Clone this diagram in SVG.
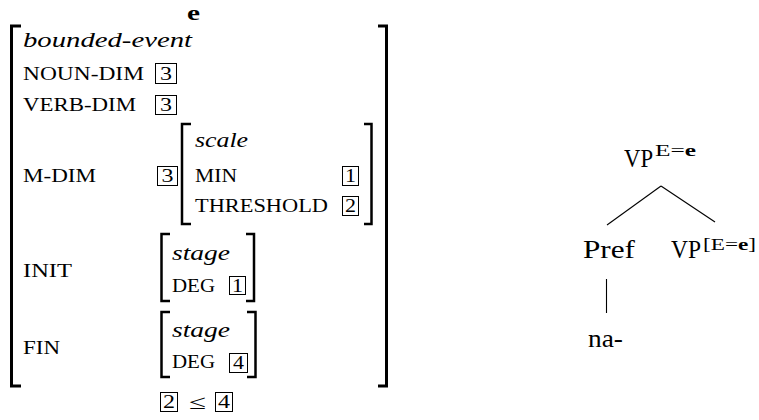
<svg xmlns="http://www.w3.org/2000/svg" width="759" height="420" viewBox="0 0 759 420">
<style>
text { font-family: "Liberation Serif", "Times New Roman", serif; fill: #000; }
.it { font-style: italic; font-size: 22px; }
.sc { font-size: 18.5px; }
.num { font-size: 19px; }
.tr { font-size: 26px; }
.sup { font-size: 17px; }
.b { font-weight: bold; }
.box { fill: none; stroke: #000; stroke-width: 1; }
.br { fill: none; stroke: #000; stroke-width: 3; stroke-linejoin: miter; }
.bri { fill: none; stroke: #000; stroke-width: 2.5; stroke-linejoin: miter; }
.edge { fill: none; stroke: #000; stroke-width: 1.1; }
</style>
<rect width="759" height="420" fill="#fff"/>
<g id="avm">
  <text class="b" x="187" y="20" font-size="22" textLength="13" lengthAdjust="spacingAndGlyphs">e</text>
  <path class="br" d="M21,26 H11.5 V386 H21"/>
  <path class="br" d="M378,26 H386.5 V386 H378"/>
  <text class="it" x="23" y="47" textLength="169" lengthAdjust="spacingAndGlyphs">bounded-event</text>
  <text class="sc" x="23" y="80" textLength="121" lengthAdjust="spacingAndGlyphs">NOUN-DIM</text>
  <rect class="box" x="155.5" y="63.5" width="21" height="20"/>
  <text class="num" x="160" y="80" textLength="12" lengthAdjust="spacingAndGlyphs">3</text>
  <text class="sc" x="23" y="111" textLength="113" lengthAdjust="spacingAndGlyphs">VERB-DIM</text>
  <rect class="box" x="155.5" y="95.5" width="21" height="19"/>
  <text class="num" x="160" y="111" textLength="12" lengthAdjust="spacingAndGlyphs">3</text>
  <text class="sc" x="23" y="182" textLength="73" lengthAdjust="spacingAndGlyphs">M-DIM</text>
  <rect class="box" x="157.5" y="166.5" width="20" height="19"/>
  <text class="num" x="161.5" y="182" textLength="12" lengthAdjust="spacingAndGlyphs">3</text>
  <g id="scale">
    <path class="bri" d="M191,124 H182 V224 H191"/>
    <path class="bri" d="M364,124 H371.5 V224 H364"/>
    <text class="it" x="195" y="147" textLength="53" lengthAdjust="spacingAndGlyphs">scale</text>
    <text class="sc" x="195" y="182" textLength="42" lengthAdjust="spacingAndGlyphs">MIN</text>
    <rect class="box" x="342.5" y="166.5" width="16" height="19"/>
    <text class="num" x="345" y="182" textLength="11" lengthAdjust="spacingAndGlyphs">1</text>
    <text class="sc" x="195" y="212" textLength="133" lengthAdjust="spacingAndGlyphs">THRESHOLD</text>
    <rect class="box" x="342.5" y="196.5" width="16" height="19"/>
    <text class="num" x="345" y="212" textLength="11" lengthAdjust="spacingAndGlyphs">2</text>
  </g>
  <text class="sc" x="23" y="277" textLength="49" lengthAdjust="spacingAndGlyphs">INIT</text>
  <g id="init-stage">
    <path class="bri" d="M170,234 H161.5 V301 H170"/>
    <path class="bri" d="M246,234 H254 V301 H246"/>
    <text class="it" x="172" y="260" textLength="58" lengthAdjust="spacingAndGlyphs">stage</text>
    <text class="sc" x="172" y="292" textLength="43" lengthAdjust="spacingAndGlyphs">DEG</text>
    <rect class="box" x="229.5" y="276.5" width="16" height="18"/>
    <text class="num" x="232" y="292" textLength="11" lengthAdjust="spacingAndGlyphs">1</text>
  </g>
  <text class="sc" x="23" y="354" textLength="37" lengthAdjust="spacingAndGlyphs">FIN</text>
  <g id="fin-stage">
    <path class="bri" d="M170,312 H161.5 V377 H170"/>
    <path class="bri" d="M247,312 H255.5 V377 H247"/>
    <text class="it" x="172" y="337" textLength="58" lengthAdjust="spacingAndGlyphs">stage</text>
    <text class="sc" x="172" y="368" textLength="43" lengthAdjust="spacingAndGlyphs">DEG</text>
    <rect class="box" x="229.5" y="353.5" width="18" height="19"/>
    <text class="num" x="233" y="369" textLength="11" lengthAdjust="spacingAndGlyphs">4</text>
  </g>
  <g id="constraint">
    <rect class="box" x="160.5" y="392.5" width="17" height="19"/>
    <text class="num" x="163" y="408" textLength="12" lengthAdjust="spacingAndGlyphs">2</text>
    <text x="189" y="409" font-size="20" textLength="17" lengthAdjust="spacingAndGlyphs">≤</text>
    <rect class="box" x="215.5" y="392.5" width="17" height="19"/>
    <text class="num" x="218" y="408" textLength="12" lengthAdjust="spacingAndGlyphs">4</text>
  </g>
</g>
<g id="connectors">
  <line class="edge" x1="661" y1="186" x2="607" y2="225"/>
  <line class="edge" x1="661" y1="186" x2="715" y2="222"/>
  <line class="edge" x1="606.5" y1="279" x2="606.5" y2="313"/>
</g>
<g id="node-vp-top">
  <text class="tr" x="624" y="167" textLength="29" lengthAdjust="spacingAndGlyphs">VP</text>
  <text class="sup" x="655" y="156" textLength="41" lengthAdjust="spacingAndGlyphs">E=<tspan class="b">e</tspan></text>
</g>
<g id="node-pref">
  <text class="tr" x="583" y="258" textLength="52" lengthAdjust="spacingAndGlyphs">Pref</text>
</g>
<g id="node-vp">
  <text class="tr" x="671" y="258" textLength="30" lengthAdjust="spacingAndGlyphs">VP</text>
  <text class="sup" x="703" y="250" textLength="53" lengthAdjust="spacingAndGlyphs">[E=<tspan class="b">e</tspan>]</text>
</g>
<g id="node-na">
  <text class="tr" x="588" y="347" textLength="35" lengthAdjust="spacingAndGlyphs">na-</text>
</g>
</svg>
